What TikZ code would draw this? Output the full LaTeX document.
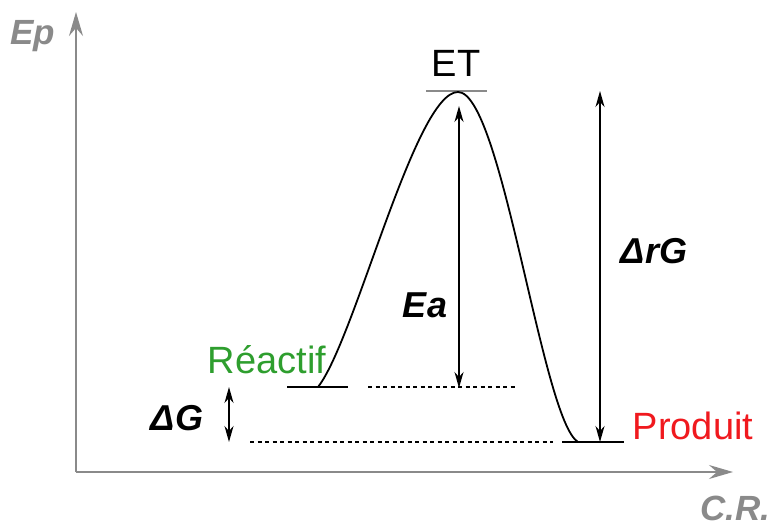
\documentclass[tikz,border=0pt]{standalone}
\usepackage{fontspec}
\setmainfont{Liberation Sans}
\usetikzlibrary{arrows.meta}
\definecolor{axisgray}{HTML}{8A8A8A}
\definecolor{rgreen}{HTML}{2E9E2E}
\definecolor{pred}{HTML}{F0191E}
\begin{document}
\begin{tikzpicture}[x=1pt,y=-1pt,
  lbl/.style={font=\fontsize{38}{42}\selectfont, anchor=base, inner sep=0pt},
  blbl/.style={lbl, font=\fontsize{36}{40}\selectfont\bfseries\itshape},
  axislbl/.style={lbl, font=\fontsize{35}{40}\selectfont\bfseries\itshape, text=axisgray},
  axisline/.style={draw=axisgray, line width=1.6pt, -{Stealth[length=24pt,width=14pt,inset=8pt]}},
  level/.style={draw=black, line width=2.4pt},
  guide/.style={draw=black, line width=1.2pt, dash pattern=on 4pt off 3.5pt},
  dim/.style={draw=black, line width=1.5pt, {Stealth[length=16pt,width=9pt,inset=5pt]}-{Stealth[length=16pt,width=9pt,inset=5pt]}},
  curve/.style={draw=black, line width=1.8pt}]
\useasboundingbox (0,0) rectangle (773,529);
% axes
\coordinate (O) at (76,472);
\coordinate (Ytip) at (76,12);
\coordinate (Xtip) at (733,472);
\draw[axisline] (O) -- (Ytip);
\draw[axisline] (O) -- (Xtip);
\node[axislbl] (ep) at (33,45) {Ep};
\node[axislbl] (cr) at (735,520) {C.R.};
% levels
\coordinate (rA) at (287,387);
\coordinate (rB) at (348,387);
\coordinate (pA) at (562,442);
\coordinate (pB) at (624,442);
\coordinate (tA) at (426,91);
\coordinate (tB) at (487,91);
\draw[level] (rA) -- (rB);
\draw[level] (pA) -- (pB);
\draw[draw=axisgray, line width=2.6pt] (tA) -- (tB);
% curve
\coordinate (cS) at (318,387);
\coordinate (cT) at (458,92);
\coordinate (cE) at (578,442);
\draw[curve] (cS) .. controls (355,340) and (415,92) .. (cT)
             .. controls (502,92) and (542,420) .. (cE);
% guides
\coordinate (g1a) at (368,387);
\coordinate (g1b) at (517,387);
\coordinate (g2a) at (250,442);
\coordinate (g2b) at (553,442);
\draw[guide] (g1a) -- (g1b);
\draw[guide] (g2a) -- (g2b);
% dimension arrows
\coordinate (eaT) at (459,106);
\coordinate (eaB) at (459,388);
\coordinate (rgT) at (600,91);
\coordinate (rgB) at (600,442);
\coordinate (dgT) at (229,387);
\coordinate (dgB) at (229,442);
\draw[dim] (eaT) -- (eaB);
\draw[dim] (rgT) -- (rgB);
\draw[dim] (dgT) -- (dgB);
% labels
\node[lbl] (et) at (456,77) {ET};
\node[lbl, text=rgreen] (reac) at (267,373) {Réactif};
\node[lbl, text=pred] (prod) at (693,439) {Produit};
\node[blbl] (ea) at (425,317) {Ea};
\node[blbl] (drg) at (654,263) {Δ{}rG};
\node[blbl] (dg) at (177,430) {ΔG};
\end{tikzpicture}
\end{document}
